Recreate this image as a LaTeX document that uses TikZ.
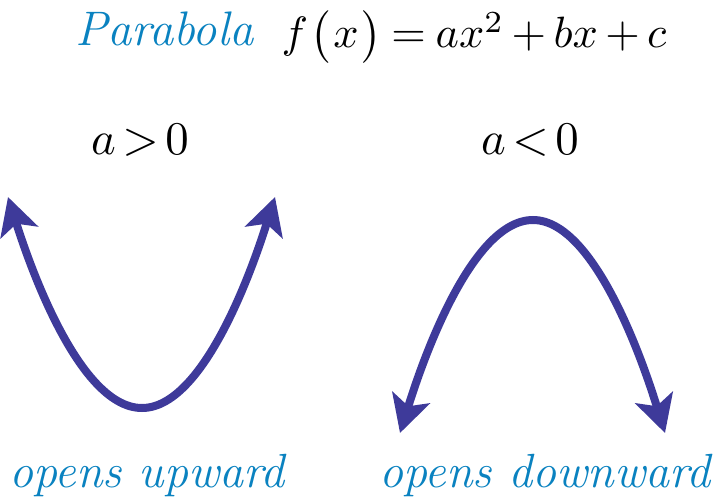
\documentclass[tikz,border=0pt]{standalone}
\usepackage{amsmath}
\usetikzlibrary{arrows.meta}
\definecolor{txtblue}{RGB}{10,130,192}
\definecolor{curvecol}{RGB}{62,58,154}
\newcommand\mathbig[3]{\scalebox{#1}[#2]{$#3$}}
\tikzset{
  lbl/.style={inner sep=0pt},
  blulbl/.style={inner sep=0pt, text=txtblue, font=\fontsize{48bp}{56bp}\selectfont\itshape},
  parab/.style={draw=curvecol, line width=8bp,
    {Stealth[length=37bp,width=39bp,inset=9bp]}-{Stealth[length=37bp,width=39bp,inset=9bp]}}
}
\begin{document}
\begin{tikzpicture}[x=1bp,y=-1bp]
\useasboundingbox (0,0) rectangle (713,501);
% title
\node[blulbl, anchor=base west, font=\fontsize{48.5bp}{56bp}\selectfont\itshape] (ttl) at (75,46) {Parabola};
\node[lbl, anchor=base] (eq) at (474,48)
  {\mathbig{4.45}{4.4}{f\mkern1mu\bigl(\mkern1mu x\mkern1mu\bigr)\mkern-1mu=\mkern-1mu ax^2\mkern-1mu+\mkern-1mu bx\mkern-1mu+\mkern-1mu c}};
% conditions
\node[lbl, anchor=base] (c1) at (140,155) {\mathbig{4.7}{4.7}{a\mkern-2.5mu>\mkern-2.5mu0}};
\node[lbl, anchor=base] (c2) at (530,155) {\mathbig{4.7}{4.7}{a\mkern-2.5mu<\mkern-2.5mu0}};
% parabolas
\coordinate (l1) at (8,197);
\coordinate (v1) at (142,408);
\coordinate (r1) at (275,197);
\draw[parab] (l1) parabola bend (v1) (r1);
\coordinate (l2) at (400,433);
\coordinate (v2) at (533,220);
\coordinate (r2) at (665,433);
\draw[parab] (l2) parabola bend (v2) (r2);
% captions
\node[blulbl, anchor=base] (o1) at (147,487) {opens upward};
\node[blulbl, anchor=base] (o2) at (545,487) {opens downward};
\end{tikzpicture}
\end{document}
